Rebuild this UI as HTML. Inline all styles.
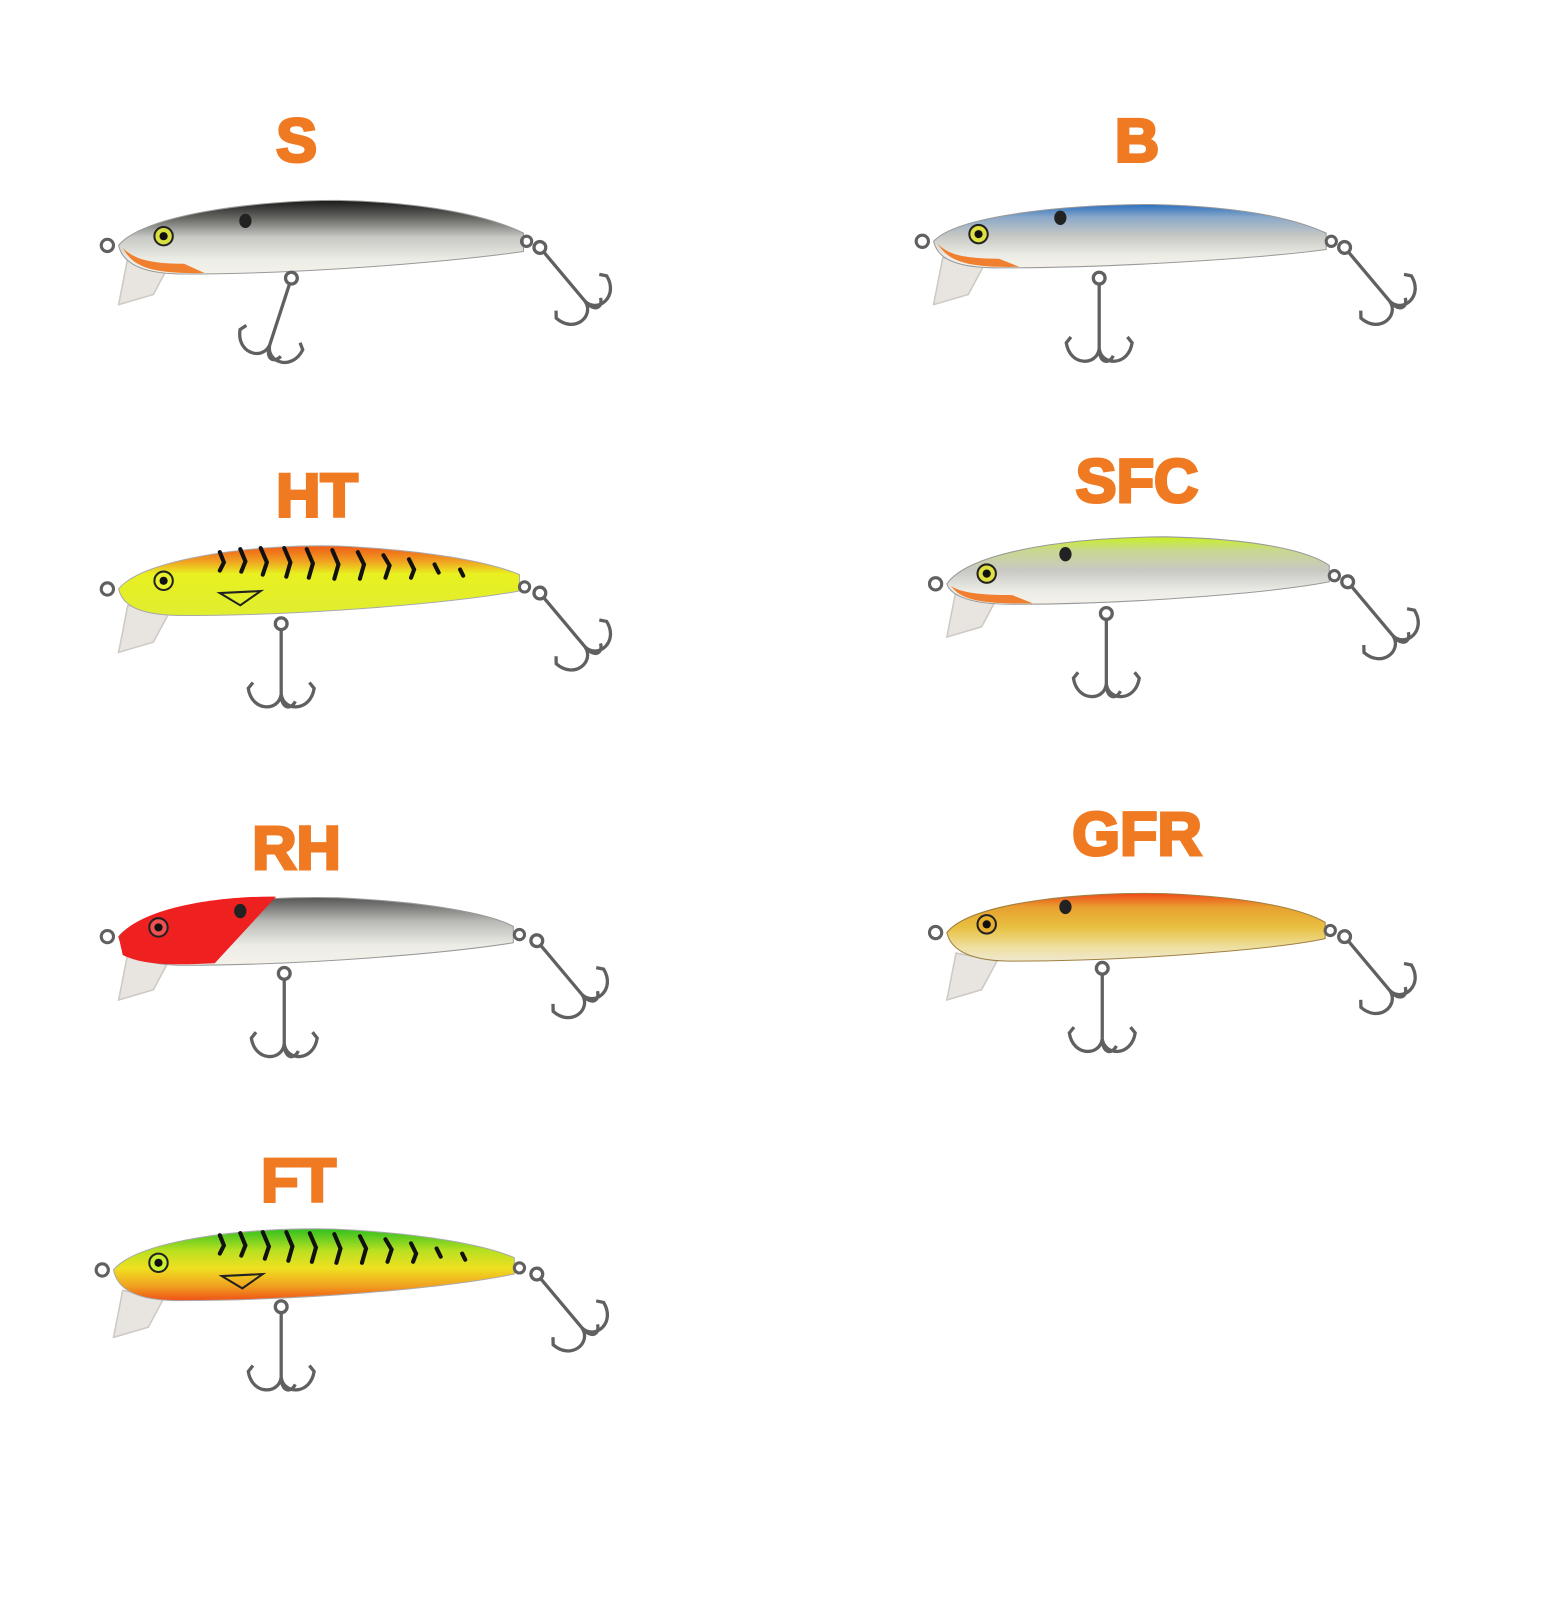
<!DOCTYPE html>
<html><head><meta charset="utf-8">
<style>
html,body{margin:0;padding:0;background:#fff;}
svg{display:block}
text{font-family:"Liberation Sans",Arial,sans-serif;font-weight:bold;fill:#f07a22;stroke:#f07a22;stroke-width:3;font-size:60px;text-anchor:middle}
</style></head>
<body>
<svg width="1565" height="1600" viewBox="0 0 1565 1600" xmlns="http://www.w3.org/2000/svg">
<defs>
<linearGradient id="gS" x1="0" y1="0" x2="0" y2="1"><stop offset="0" stop-color="#1a1a1a"/><stop offset="0.25" stop-color="#6a6a66"/><stop offset="0.5" stop-color="#c8c8c4"/><stop offset="0.8" stop-color="#ecece6"/><stop offset="1" stop-color="#f4f2ea"/></linearGradient>
<linearGradient id="gB" x1="0" y1="0" x2="0" y2="1"><stop offset="0" stop-color="#2a70c0"/><stop offset="0.2" stop-color="#8aa8c8"/><stop offset="0.5" stop-color="#c8c8c4"/><stop offset="0.8" stop-color="#ecece6"/><stop offset="1" stop-color="#f4f2ea"/></linearGradient>
<linearGradient id="gHT" x1="0" y1="0" x2="0" y2="1"><stop offset="0" stop-color="#f05a18"/><stop offset="0.22" stop-color="#f0a020"/><stop offset="0.4" stop-color="#e8f020"/><stop offset="1" stop-color="#e0ee30"/></linearGradient>
<linearGradient id="gSFC" x1="0" y1="0" x2="0" y2="1"><stop offset="0" stop-color="#c8f020"/><stop offset="0.2" stop-color="#c8d890"/><stop offset="0.5" stop-color="#c8c8c4"/><stop offset="0.8" stop-color="#ecece6"/><stop offset="1" stop-color="#f4f2ea"/></linearGradient>
<linearGradient id="gRH" x1="0" y1="0" x2="0" y2="1"><stop offset="0" stop-color="#555"/><stop offset="0.35" stop-color="#b8b8b4"/><stop offset="0.7" stop-color="#ecece6"/><stop offset="1" stop-color="#f4f2ea"/></linearGradient>
<linearGradient id="gGFR" x1="0" y1="0" x2="0" y2="1"><stop offset="0" stop-color="#f04818"/><stop offset="0.2" stop-color="#e8a030"/><stop offset="0.5" stop-color="#e8c040"/><stop offset="0.8" stop-color="#eee0a0"/><stop offset="1" stop-color="#f0e8d0"/></linearGradient>
<linearGradient id="gFT" x1="0" y1="0" x2="0" y2="1"><stop offset="0" stop-color="#30c020"/><stop offset="0.3" stop-color="#b8e020"/><stop offset="0.55" stop-color="#f0e020"/><stop offset="0.8" stop-color="#f0a020"/><stop offset="1" stop-color="#f05018"/></linearGradient>
<g id="hook0" fill="none" stroke="#606060" stroke-width="2.8">
  <circle cx="0" cy="0" r="5"/>
  <line x1="0" y1="5" x2="0" y2="60"/>
  <path d="M0,60 C-2,75 -25,75 -28,55 L-24,50"/>
  <path d="M0,60 C2,75 25,75 28,55 L24,50"/>
  <path d="M0,60 C0,72 8,74 12,66"/>
</g>
<g id="hook"><use href="#hook0" transform="scale(1.15)"/></g>
<g id="lip"><polygon points="125,252 165,260 150,288 116,298" fill="#e6e2dc" stroke="#c8c4be" stroke-width="1.5" opacity="0.9"/></g>
</defs>
<g transform="scale(1.0225)">
<text x="290" y="158">S</text>
<text x="1112" y="158">B</text>
<text x="310" y="505">HT</text>
<text x="1112" y="491">SFC</text>
<text x="290" y="850">RH</text>
<text x="1112" y="836">GFR</text>
<text x="292" y="1175">FT</text>

<!-- S -->
<g transform="translate(0,0)">
 <use href="#lip"/>
 <circle cx="105" cy="240" r="6" fill="none" stroke="#606060" stroke-width="3"/>
 <path d="M116,240 C140,210 250,196 330,196 C420,198 480,212 512,228 L512,246 C440,256 300,268 180,268 C140,268 120,258 116,240 Z" fill="url(#gS)" stroke="#999" stroke-width="1"/>
 <path d="M120,242 C130,262 150,268 200,267 L180,258 C150,258 130,254 120,242Z" fill="#f08030"/>
 <circle cx="160" cy="231" r="9" fill="#d8e040" stroke="#222" stroke-width="2"/><circle cx="160" cy="231" r="4" fill="#111"/>
 <ellipse cx="240" cy="216" rx="6" ry="7" fill="#222"/>
 <circle cx="515" cy="236" r="5" fill="none" stroke="#606060" stroke-width="3"/>
 <g transform="translate(528,242) rotate(-40)"><use href="#hook"/></g>
 <g transform="translate(285,272) rotate(18)"><use href="#hook"/></g>
</g>
<!-- B -->
<g transform="translate(797,0)">
 <use href="#lip"/>
 <circle cx="105" cy="236" r="6" fill="none" stroke="#606060" stroke-width="3"/>
 <path d="M116,236 C140,210 250,200 330,200 C420,202 470,214 500,228 L500,244 C440,252 300,262 180,262 C140,262 120,254 116,236 Z" fill="url(#gB)" stroke="#999" stroke-width="1"/>
 <path d="M120,238 C130,256 150,262 200,261 L180,253 C150,253 130,250 120,238Z" fill="#f08030"/>
 <circle cx="160" cy="229" r="9" fill="#e0e040" stroke="#222" stroke-width="2"/><circle cx="160" cy="229" r="4" fill="#111"/>
 <ellipse cx="240" cy="213" rx="6" ry="7" fill="#222"/>
 <circle cx="505" cy="236" r="5" fill="none" stroke="#606060" stroke-width="3"/>
 <g transform="translate(518,242) rotate(-40)"><use href="#hook"/></g>
 <g transform="translate(278,272)"><use href="#hook"/></g>
</g>
<!-- HT -->
<g transform="translate(0,340)">
 <use href="#lip"/>
 <circle cx="105" cy="236" r="6" fill="none" stroke="#606060" stroke-width="3"/>
 <path d="M116,236 C140,206 250,192 330,194 C420,198 480,210 508,222 L508,238 C440,250 300,262 180,262 C140,262 120,254 116,236 Z" fill="url(#gHT)" stroke="#aaa" stroke-width="1"/>
 <g stroke="#111" stroke-width="4" fill="none" stroke-linecap="round">
  <path d="M215,200 l4,10 l-4,8"/><path d="M235,197 l5,12 l-4,10"/><path d="M255,196 l6,14 l-4,12"/><path d="M278,196 l6,14 l-4,14"/><path d="M300,197 l6,14 l-4,14"/><path d="M325,198 l6,14 l-4,14"/><path d="M350,200 l6,12 l-4,14"/><path d="M375,203 l6,10 l-4,12"/><path d="M400,207 l5,10 l-3,8"/><path d="M425,212 l4,8"/><path d="M450,217 l3,6"/>
 </g>
 <path d="M215,240 l40,-2 l-20,14 z" fill="none" stroke="#222" stroke-width="2"/>
 <circle cx="160" cy="228" r="9" fill="#e8f030" stroke="#222" stroke-width="2"/><circle cx="160" cy="228" r="4" fill="#111"/>
 <circle cx="513" cy="234" r="5" fill="none" stroke="#606060" stroke-width="3"/>
 <g transform="translate(528,240) rotate(-40)"><use href="#hook"/></g>
 <g transform="translate(275,270)"><use href="#hook"/></g>
</g>
<!-- SFC -->
<g transform="translate(810,325)">
 <use href="#lip"/>
 <circle cx="105" cy="246" r="6" fill="none" stroke="#606060" stroke-width="3"/>
 <path d="M116,246 C140,212 250,200 330,200 C420,202 470,214 490,228 L490,244 C440,254 300,266 180,266 C140,266 120,258 116,246 Z" fill="url(#gSFC)" stroke="#999" stroke-width="1"/>
 <path d="M120,248 C130,262 150,266 200,265 L180,257 C150,257 130,255 120,248Z" fill="#f08030"/>
 <circle cx="155" cy="236" r="9" fill="#e0e040" stroke="#222" stroke-width="2"/><circle cx="155" cy="236" r="4" fill="#111"/>
 <ellipse cx="232" cy="217" rx="6" ry="7" fill="#222"/>
 <circle cx="495" cy="238" r="5" fill="none" stroke="#606060" stroke-width="3"/>
 <g transform="translate(508,244) rotate(-40)"><use href="#hook"/></g>
 <g transform="translate(272,275)"><use href="#hook"/></g>
</g>
<!-- RH -->
<g transform="translate(0,680)">
 <use href="#lip"/>
 <circle cx="105" cy="236" r="6" fill="none" stroke="#606060" stroke-width="3"/>
 <path d="M116,236 C140,206 250,196 330,198 C420,202 480,214 502,226 L502,242 C440,252 300,264 180,264 C140,264 120,254 116,236 Z" fill="url(#gRH)" stroke="#999" stroke-width="1"/>
 <path d="M116,236 C140,206 220,196 270,197 L210,262 C170,264 140,264 120,254 Z" fill="#ee2020"/>
 <circle cx="155" cy="227" r="9" fill="#f05050" stroke="#222" stroke-width="2"/><circle cx="155" cy="227" r="4" fill="#111"/>
 <ellipse cx="235" cy="211" rx="6" ry="7" fill="#222"/>
 <circle cx="508" cy="234" r="5" fill="none" stroke="#606060" stroke-width="3"/>
 <g transform="translate(525,240) rotate(-40)"><use href="#hook"/></g>
 <g transform="translate(278,272)"><use href="#hook"/></g>
</g>
<!-- GFR -->
<g transform="translate(810,680)">
 <use href="#lip"/>
 <circle cx="105" cy="232" r="6" fill="none" stroke="#606060" stroke-width="3"/>
 <path d="M116,232 C140,202 250,192 330,194 C420,198 465,210 486,222 L486,238 C440,248 300,260 180,260 C140,260 120,250 116,232 Z" fill="url(#gGFR)" stroke="#a08040" stroke-width="1"/>
 <circle cx="155" cy="224" r="9" fill="#e8b030" stroke="#222" stroke-width="2"/><circle cx="155" cy="224" r="4" fill="#111"/>
 <ellipse cx="232" cy="207" rx="6" ry="7" fill="#222"/>
 <circle cx="491" cy="230" r="5" fill="none" stroke="#606060" stroke-width="3"/>
 <g transform="translate(505,236) rotate(-40)"><use href="#hook"/></g>
 <g transform="translate(268,267)"><use href="#hook"/></g>
</g>
<!-- FT -->
<g transform="translate(-5,1010)">
 <use href="#lip"/>
 <circle cx="105" cy="232" r="6" fill="none" stroke="#606060" stroke-width="3"/>
 <path d="M116,232 C140,202 250,190 330,192 C420,196 480,208 508,220 L508,236 C440,250 300,262 180,262 C140,262 120,252 116,232 Z" fill="url(#gFT)" stroke="#aaa" stroke-width="1"/>
 <g stroke="#111" stroke-width="4" fill="none" stroke-linecap="round">
  <path d="M220,198 l4,10 l-4,8"/><path d="M240,196 l5,12 l-4,10"/><path d="M262,195 l6,14 l-4,12"/><path d="M285,195 l6,14 l-4,14"/><path d="M308,196 l6,14 l-4,14"/><path d="M332,197 l6,14 l-4,14"/><path d="M357,199 l6,12 l-4,14"/><path d="M382,202 l6,10 l-4,12"/><path d="M407,206 l5,10 l-3,8"/><path d="M432,211 l4,8"/><path d="M457,216 l3,6"/>
 </g>
 <path d="M222,238 l40,-2 l-20,14 z" fill="none" stroke="#222" stroke-width="2"/>
 <circle cx="160" cy="225" r="9" fill="#c8f030" stroke="#222" stroke-width="2"/><circle cx="160" cy="225" r="4" fill="#111"/>
 <circle cx="513" cy="230" r="5" fill="none" stroke="#606060" stroke-width="3"/>
 <g transform="translate(530,236) rotate(-40)"><use href="#hook"/></g>
 <g transform="translate(280,268)"><use href="#hook"/></g>
</g>
</g>
</svg>
</body></html>
